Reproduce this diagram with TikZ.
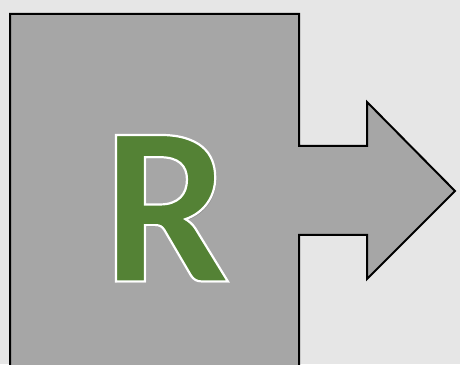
\documentclass[tikz,border=0pt]{standalone}
\usepackage{fontspec}
\setmainfont{Carlito}
\usepackage{xcolor}
\usepackage{tikz}
\definecolor{slideBg}{HTML}{E6E6E6}
\definecolor{shapeGray}{HTML}{A6A6A6}
\definecolor{letterGreen}{HTML}{548235}
\definecolor{shadowGray}{HTML}{8C8C8C}
% fill and white stroke of a glyph
\newcommand{\outlinedglyph}[1]{\special{pdf:literal direct 2 Tr 2.2 w 1 1 1 RG}#1\special{pdf:literal direct 0 Tr}}

\begin{document}
\begin{tikzpicture}[
    x=1pt, y=1pt,
    outline/.style={draw=black, fill=shapeGray, line width=2pt, line join=miter},
    letter/.style={font=\fontsize{226}{226}\selectfont\bfseries, inner sep=0pt, anchor=base}
  ]
    % page background
    \fill[slideBg] (0,0) rectangle (460,364);
    \useasboundingbox (0,0) rectangle (460,364);
    \clip (0,0) rectangle (460,364);
    % block with outgoing arrow
    \draw[outline] (10,-10) -- (10,350) -- (299,350) -- (299,218) -- (367,218) -- (367,262)
      -- (455,173) -- (367,85) -- (367,129) -- (299,129) -- (299,-10);
    % big letter with shadow
    \node[letter, text=shadowGray] (shadow) at (168.5,80) {R};
    \node[letter, text=letterGreen] (R) at (166.5,82.5) {\outlinedglyph{R}};
  \end{tikzpicture}
\end{document}
